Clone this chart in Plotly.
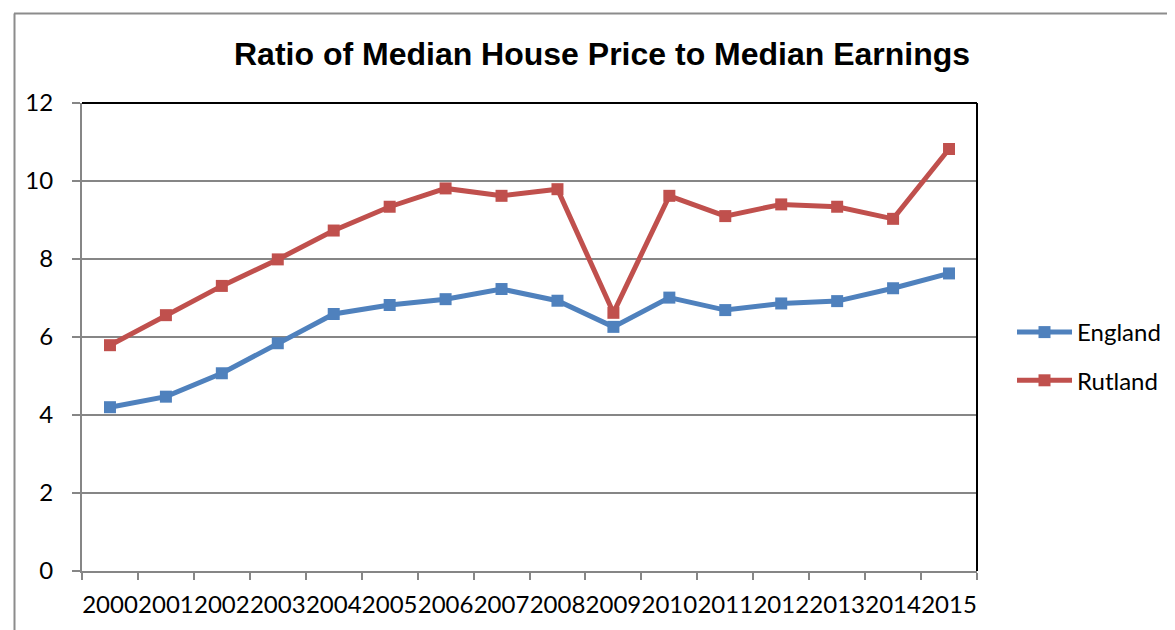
import plotly.graph_objects as go

years = [str(y) for y in range(2000, 2016)]
england = [4.20, 4.47, 5.07, 5.84, 6.59, 6.82, 6.97, 7.23, 6.93, 6.26, 7.01, 6.69, 6.86, 6.92, 7.25, 7.63]
rutland = [5.79, 6.56, 7.31, 7.99, 8.73, 9.34, 9.81, 9.62, 9.79, 6.62, 9.62, 9.10, 9.40, 9.34, 9.03, 10.82]
title_text = "Ratio of Median House Price to Median Earnings"

OFF = 8  # page body margin
W, H = 1175, 630
L, R, T, B = 82 - OFF, 977 - OFF, 103 - OFF, 571 - OFF

def px(x):
    return (x - OFF - L) / (R - L)

def py(y):
    return (B - (y - OFF)) / (B - T)

tick_font = dict(family="Lato, Carlito, Calibri, sans-serif", size=24, color="#000000")

fig = go.Figure()
fig.add_trace(go.Scatter(
    x=years, y=england, name="England", mode="lines+markers",
    line=dict(color="#4F81BD", width=5),
    marker=dict(symbol="square", size=12, color="#4F81BD"),
    legendgroup="a",
))
fig.add_trace(go.Scatter(
    x=years, y=rutland, name="Rutland", mode="lines+markers",
    line=dict(color="#C0504D", width=5),
    marker=dict(symbol="square", size=12, color="#C0504D"),
    legendgroup="b",
))

fig.update_layout(
    width=W, height=H,
    margin=dict(l=L, r=W - R, t=T, b=H - B, autoexpand=False),
    paper_bgcolor="white", plot_bgcolor="white",
    title=dict(
        text=title_text, xref="paper", yref="container",
        x=px(234), xanchor="left", y=1 - (54 - OFF) / H, yanchor="middle",
        font=dict(family="Liberation Sans, Arial, sans-serif", size=32, color="#000000", weight="bold"),
    ),
    showlegend=True,
    legend=dict(
        x=px(1012), xanchor="left", y=py(310), yanchor="top",
        font=tick_font, bgcolor="rgba(0,0,0,0)",
        tracegroupgap=14, itemwidth=55,
    ),
    xaxis=dict(
        type="category", tickson="boundaries", range=[-0.5, 15.5],
        showline=True, linecolor="#868686", linewidth=2,
        ticks="outside", ticklen=7, tickcolor="#868686", tickwidth=2,
        showgrid=False, tickfont=tick_font, ticklabelstandoff=11,
        tickangle=0, fixedrange=True,
    ),
    yaxis=dict(
        range=[0, 12], dtick=2, tick0=0,
        showline=True, linecolor="#868686", linewidth=2,
        ticks="outside", ticklen=8, tickcolor="#868686", tickwidth=2,
        showgrid=True, gridcolor="#868686", gridwidth=2,
        zeroline=False, tickfont=tick_font, ticklabelstandoff=14,
        fixedrange=True,
    ),
    shapes=[
        # plot area border (top and right, black)
        dict(type="line", xref="paper", yref="paper", x0=0, x1=1, y0=1, y1=1,
             line=dict(color="#000000", width=2), layer="above"),
        dict(type="line", xref="paper", yref="paper", x0=1, x1=1, y0=0, y1=1,
             line=dict(color="#000000", width=2), layer="above"),
        # outer chart border (top and left, gray)
        dict(type="line", xref="paper", yref="paper", x0=px(14), x1=px(1200), y0=py(13.5), y1=py(13.5),
             line=dict(color="#8c8c8c", width=2)),
        dict(type="line", xref="paper", yref="paper", x0=px(14.5), x1=px(14.5), y0=py(13.5), y1=py(660),
             line=dict(color="#8c8c8c", width=2)),
    ],
)

fig.write_html("out.html")
